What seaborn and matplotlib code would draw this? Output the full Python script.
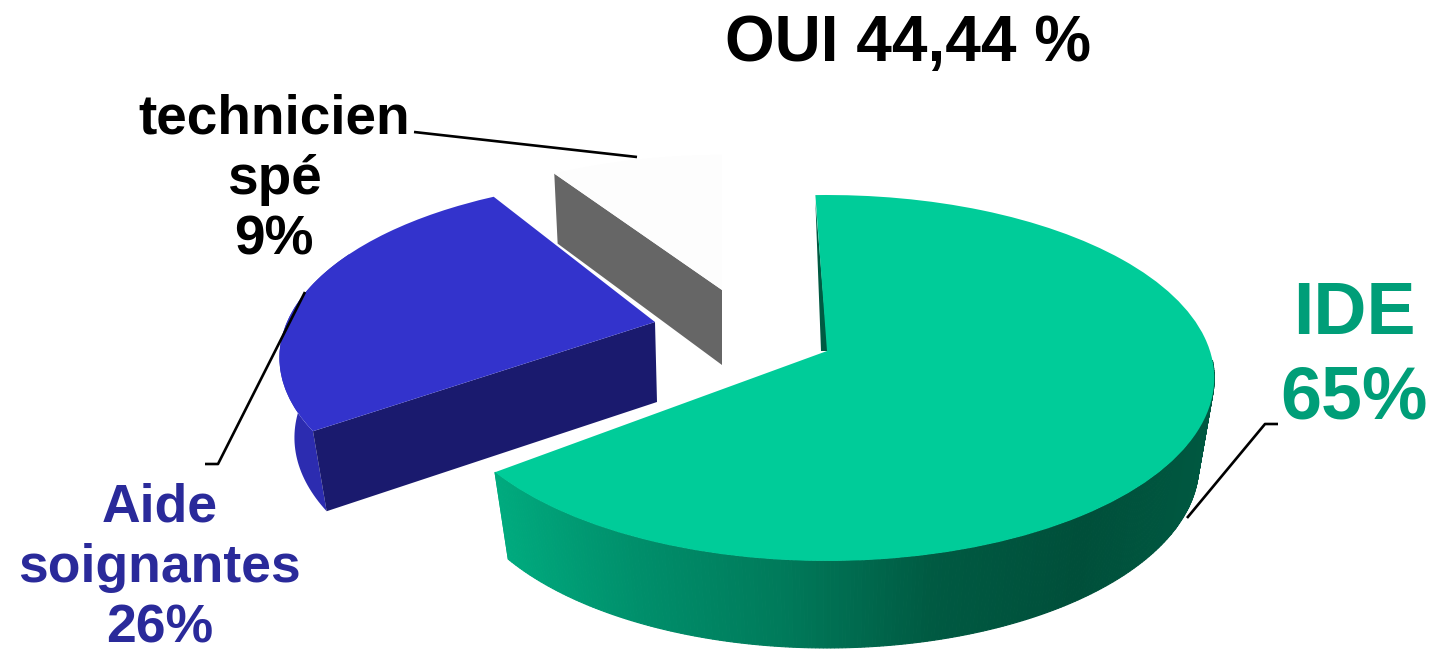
import numpy as np
import matplotlib
matplotlib.use("Agg")
import matplotlib.pyplot as plt
from matplotlib.transforms import Transform
import seaborn as sns

categories = ["IDE", "Aide soignantes", "technicien spé"]
shares = [65, 26, 9]
title_text = "OUI 44,44 %"
label_texts = ["IDE\n65%", "Aide\nsoignantes\n26%", "technicien\nspé\n9%"]

top_colors = ["#00CC99", "#3333CC", "#FDFDFD"]
face_colors = ["#005A42", "#1A1A6E", "#666666"]
label_colors = ["#009E78", "#2A2A9A", "#000000"]
wall_stops = ["#00AD80", "#008F6B", "#007A5A", "#005A42", "#004F3A", "#005A42"]

#        cx   cy   rx   ry   p      rot  depth  sx
geom = [(827, 351, 383, 179, 0.1475, -2, 87, 0.96),
        (655, 322, 368, 171, 0.2, 1.5, 80, 0.96),
        (722, 290, 352, 155, 0.1475, 0, 70, 0.98)]


def project(ang, g, r=1.0, below=False):
    """ang: degrees, math convention -> pixel position."""
    cx, cy, rx, ry, p, rot, d, sx = g
    a = np.radians(np.asarray(ang) - rot)
    u, v = r * np.cos(a), r * np.sin(a)
    w = 1 / (1 + p * v)
    x = rx * u * w * (sx if below else 1)
    y = ry * v * w + (-d if below else 0)
    return np.column_stack([cx + x, cy - y])


class Persp(Transform):
    input_dims = output_dims = 2
    is_separable = False
    has_inverse = False

    def __init__(self, g):
        super().__init__()
        self.g = g

    def transform_non_affine(self, xy):
        xy = np.asarray(xy, float)
        cx, cy, rx, ry, p, rot, d, sx = self.g
        a = np.radians(-rot)
        u = xy[:, 0] * np.cos(a) - xy[:, 1] * np.sin(a)
        v = xy[:, 0] * np.sin(a) + xy[:, 1] * np.cos(a)
        w = 1 / (1 + p * v)
        return np.column_stack([cx + rx * u * w, cy - ry * v * w])


sns.set_theme(style="white")
plt.rcParams["font.family"] = ["Liberation Sans", "DejaVu Sans"]

fig = plt.figure(figsize=(14.34, 6.51), dpi=100)
ax = fig.add_axes([0, 0, 1, 1])

wedges, _ = ax.pie(shares, colors=top_colors, startangle=90, counterclock=False,
                   wedgeprops=dict(linewidth=0))
ax.set_aspect("auto")
ax.set_xlim(0, 1434)
ax.set_ylim(651, 0)
ax.axis("off")

for w, g in zip(wedges, geom):
    w.set_transform(Persp(g) + ax.transData)
    w.set_zorder(5)

# angular limits of each slice, from the shares
ends = 90 - np.cumsum(shares) / np.sum(shares) * 360
starts = np.r_[90, ends[:-1]]

# IDE outer wall, shaded along x
grad = sns.blend_palette(wall_stops, 256)
g = geom[0]
angs = np.arange(-5, ends[0] - 0.5, -0.5)
angs = np.r_[angs, ends[0]]
top = project(angs, g)
bot = project(angs, g, below=True)
for i in range(len(angs) - 1):
    xm = (bot[i, 0] + bot[i + 1, 0]) / 2
    t = np.clip((xm - 495) / (1215 - 495), 0, 1)
    ax.fill([top[i, 0], top[i + 1, 0], bot[i + 1, 0], bot[i, 0]],
            [top[i, 1], top[i + 1, 1], bot[i + 1, 1], bot[i, 1]],
            color=grad[int(t * 255)], lw=0.8, zorder=2)

# IDE inner sliver
p_out = project([starts[0]], g)[0]
ax.fill([p_out[0], g[0] + 1, g[0] - 6], [p_out[1] + 6, g[1], g[1]],
        color="#005A42", lw=0, zorder=3)

# Aide outer wall and front face
g = geom[1]
angs = np.linspace(ends[0], ends[0] - 60, 60)
top = project(angs, g)
bot = project(angs, g, below=True)
ax.fill(np.r_[top[:, 0], bot[::-1, 0]], np.r_[top[:, 1], bot[::-1, 1]],
        color="#2C2CB0", lw=0, zorder=2)
a = project([starts[1]], g)[0]
cnr = project([starts[1]], g, below=True)[0]
ax.fill([g[0], a[0], cnr[0], g[0] + 2], [g[1], a[1], cnr[1], g[1] + g[6]],
        color=face_colors[1], lw=0, zorder=3)

# technicien radial face
g = geom[2]
a = project([ends[1]], g)[0]
cnr = project([ends[1]], g, below=True)[0]
ax.fill([g[0], a[0], cnr[0], g[0]], [g[1], a[1], cnr[1], g[1] + g[6] + 5],
        color=face_colors[2], lw=0, zorder=3)

# leader lines
lk = dict(color="black", lw=1.9, zorder=6, solid_capstyle="butt")
ax.plot([414, 637], [132, 157], **lk)
ax.plot([205, 218, 305], [464, 464, 292], **lk)
ax.plot([1278, 1265, 1187], [424, 424, 518], **lk)

# texts
ax.text(908, 44, title_text, fontsize=46, fontweight="bold", color="black",
        ha="center", va="center")
ax.text(1354, 357, label_texts[0], fontsize=53, fontweight="bold", color=label_colors[0],
        ha="center", va="center", linespacing=1.29, zorder=7)
ax.text(160, 568, label_texts[1], fontsize=38.5, fontweight="bold", color=label_colors[1],
        ha="center", va="center", linespacing=1.26, zorder=7)
ax.text(274, 180, label_texts[2], fontsize=39.6, fontweight="bold", color=label_colors[2],
        ha="center", va="center", linespacing=1.224, zorder=7)

fig.savefig("out.png", dpi=100, facecolor="white")
